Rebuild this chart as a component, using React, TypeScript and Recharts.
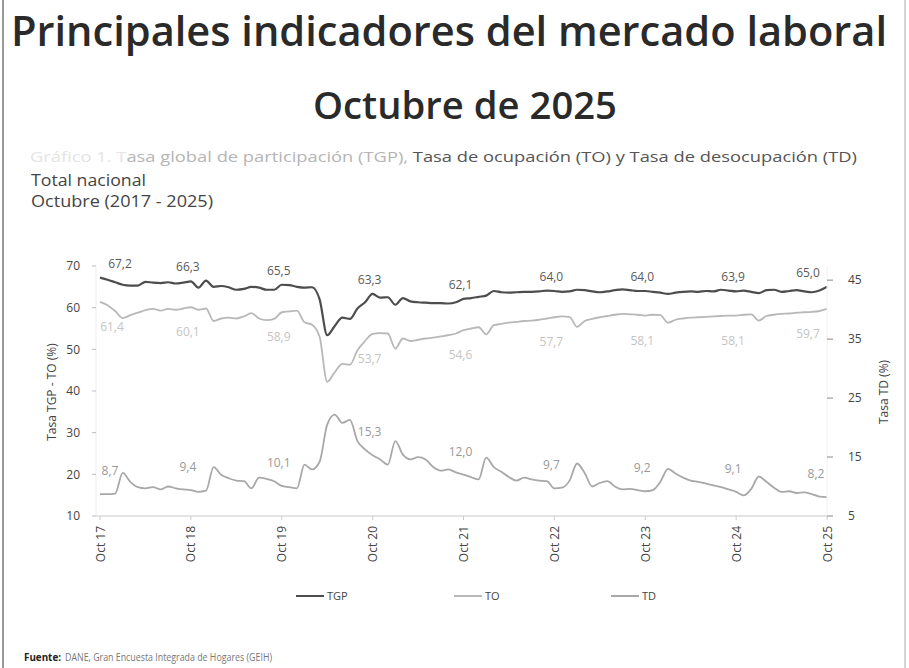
import React from 'react';
import { LineChart, Line, XAxis, YAxis, LabelList } from 'recharts';

const MONTHS = ['Ene', 'Feb', 'Mar', 'Abr', 'May', 'Jun', 'Jul', 'Ago', 'Sep', 'Oct', 'Nov', 'Dic'];
// monthly periods, Oct 2017 - Oct 2025
const PERIODS = Array.from({ length: 97 }, (_, i) => `${MONTHS[(9 + i) % 12]} ${17 + Math.floor((9 + i) / 12)}`);

const TGP = [
  67.2, 66.7, 66.1, 65.5, 65.3, 65.3, 66.2, 66.0, 65.9, 66.1, 65.8, 66.0,
  66.3, 64.8, 66.5, 65.0, 65.2, 64.9, 64.3, 64.5, 65.0, 64.8, 64.3, 64.3,
  65.5, 65.4, 65.0, 64.8, 64.9, 62.0, 53.4, 55.6, 57.6, 57.3, 59.8, 61.3,
  63.3, 62.4, 62.5, 60.7, 62.3, 61.5, 61.3, 61.2, 61.1, 61.1, 61.0, 61.3,
  62.1, 62.3, 62.6, 62.9, 64.0, 63.7, 63.6, 63.7, 63.8, 63.8, 63.9, 64.1,
  64.0, 63.8, 63.9, 64.3, 64.2, 63.9, 63.7, 63.9, 64.2, 64.4, 64.2, 64.0,
  64.0, 63.8, 63.6, 63.3, 63.6, 63.8, 63.9, 63.8, 64.0, 63.9, 64.3, 64.1,
  63.9, 64.1, 63.8, 63.5, 64.2, 64.3, 63.8, 64.0, 64.2, 63.9, 63.7, 64.1,
  65.0,
];

const TO = [
  61.4, 60.6, 59.2, 57.5, 58.2, 58.8, 59.4, 59.7, 59.3, 59.7, 59.5, 59.8,
  60.1, 59.5, 59.8, 56.8, 57.4, 57.6, 57.4, 57.9, 58.7, 57.4, 57.0, 57.3,
  58.9, 59.1, 59.3, 56.5, 55.9, 53.0, 42.2, 44.5, 46.5, 46.3, 49.8, 52.0,
  53.7, 53.9, 53.8, 50.2, 52.6, 52.0, 52.3, 52.6, 52.8, 53.1, 53.4, 53.8,
  54.6, 55.0, 55.3, 53.6, 55.8, 56.1, 56.4, 56.6, 56.8, 56.9, 57.1, 57.4,
  57.7, 57.9, 57.8, 55.4, 56.8, 57.3, 57.7, 58.0, 58.3, 58.5, 58.4, 58.3,
  58.1, 58.3, 58.2, 56.4, 57.1, 57.4, 57.6, 57.7, 57.8, 57.9, 58.0, 58.1,
  58.1, 58.3, 58.4, 56.9, 58.0, 58.3, 58.5, 58.6, 58.8, 58.9, 59.0, 59.2,
  59.7,
];

const TD = [
  8.7, 8.7, 8.8, 12.3, 10.8, 9.9, 9.7, 9.9, 9.5, 10.0, 9.7, 9.5,
  9.4, 9.1, 9.3, 13.3, 12.0, 11.4, 11.0, 10.9, 9.7, 11.5, 11.3, 10.9,
  10.1, 9.9, 9.7, 13.7, 12.9, 14.2, 20.5, 22.2, 20.8, 21.3, 17.7, 16.3,
  15.3, 14.6, 13.7, 17.7, 15.4, 14.6, 15.0, 14.6, 13.3, 12.7, 12.9, 12.4,
  12.0, 11.6, 11.2, 14.9, 13.3, 12.5, 11.6, 11.0, 11.5, 11.2, 11.0, 10.9,
  9.7, 9.8, 11.0, 13.9, 12.3, 10.0, 10.6, 10.9, 10.0, 9.5, 9.6, 9.4,
  9.2, 9.4, 10.8, 13.0, 12.2, 11.5, 11.0, 10.8, 10.5, 10.2, 9.9, 9.5,
  9.1, 8.5, 9.6, 11.7, 10.8, 9.8, 9.1, 9.2, 8.9, 9.0, 8.7, 8.3,
  8.2,
];

const LEFT_TICKS = [10, 20, 30, 40, 50, 60, 70];
const RIGHT_TICKS = [5, 15, 25, 35, 45];

const FONT = '"Open Sans", sans-serif';

const data = PERIODS.map((periodo, i) => {
  const oct = i % 12 === 0;
  return {
    periodo,
    tgp: TGP[i],
    to: TO[i],
    td: TD[i],
    tgpLabel: oct ? TGP[i] : null,
    toLabel: oct ? TO[i] : null,
    tdLabel: oct ? TD[i] : null,
  };
});

const fmt = (v: number) => v.toFixed(1).replace('.', ',');

function makeLabel(color: string, dy: number, dxFirst: number, dxLast: number) {
  return (props: any) => {
    const { value } = props;
    if (value === null || value === undefined) return null;
    const x = props.x ?? props.viewBox?.x;
    const y = props.y ?? props.viewBox?.y;
    let dx = -3;
    if (x < 110) dx = dxFirst;
    else if (x > 815) dx = dxLast;
    return (
      <text x={x + dx} y={y + dy} textAnchor="middle" fontSize={12} fill={color} fontFamily={FONT}>
        {fmt(value)}
      </text>
    );
  };
}

const XTick = (props: any) => {
  const { x, y, payload } = props;
  return (
    <g transform={`translate(${x},${y + 4})`}>
      <text transform="rotate(-90)" textAnchor="end" dominantBaseline="central" fontSize={12} fill="#444" fontFamily={FONT}>
        {payload.value}
      </text>
    </g>
  );
};

function App() {
  return (
    <div style={{ position: 'absolute', left: 0, top: 0, width: 909, height: 668, background: '#fff', overflow: 'hidden', fontFamily: FONT }}>
      <div style={{ position: 'absolute', left: 0, top: 240 }}>
        <LineChart width={909} height={330} data={data} margin={{ top: 26, right: 32, bottom: 4, left: 36 }}>
          <XAxis
            dataKey="periodo"
            interval={11}
            height={50}
            tick={<XTick />}
            tickSize={4}
            axisLine={{ stroke: '#c8c8c8' }}
            tickLine={{ stroke: '#ccc' }}
            padding={{ left: 4, right: 0 }}
          />
          <YAxis
            yAxisId="left"
            domain={[10, 70]}
            ticks={LEFT_TICKS}
            width={60}
            tickSize={4}
            tickMargin={12}
            axisLine={{ stroke: '#eee' }}
            tickLine={{ stroke: '#bbb' }}
            tick={{ fontSize: 12, fill: '#444', fontFamily: FONT }}
          />
          <YAxis
            yAxisId="right"
            orientation="right"
            domain={[5, 47.4]}
            ticks={RIGHT_TICKS}
            width={50}
            tickSize={6}
            tickMargin={15}
            axisLine={{ stroke: '#f0f0f0' }}
            tickLine={{ stroke: '#888' }}
            tick={{ fontSize: 12, fill: '#444', fontFamily: FONT }}
          />
          <Line yAxisId="left" type="monotone" dataKey="to" stroke="#b8b8b8" strokeWidth={1.8} dot={false} isAnimationActive={false}>
            <LabelList dataKey="toLabel" content={makeLabel('#c4c4c4', 29, 12, -19)} />
          </Line>
          <Line yAxisId="right" type="monotone" dataKey="td" stroke="#a8a8a8" strokeWidth={1.8} dot={false} isAnimationActive={false}>
            <LabelList dataKey="tdLabel" content={makeLabel('#999', -19, 10, -11)} />
          </Line>
          <Line yAxisId="left" type="monotone" dataKey="tgp" stroke="#4d4d4d" strokeWidth={2.2} dot={false} isAnimationActive={false}>
            <LabelList dataKey="tgpLabel" content={makeLabel('#5a5a5a', -10, 20, -19)} />
          </Line>
        </LineChart>
      </div>

      <svg width={909} height={668} style={{ position: 'absolute', left: 0, top: 0, pointerEvents: 'none' }} fontFamily={FONT}>
        <line x1={3} y1={0} x2={3} y2={668} stroke="#777" strokeWidth={1.5} />
        <line x1={905} y1={0} x2={905} y2={668} stroke="#aaa" strokeWidth={1} />

        <text x={449} y={46} textAnchor="middle" fontSize={42} fontWeight={600} fill="#2a2a2a" textLength={876} lengthAdjust="spacingAndGlyphs">
          Principales indicadores del mercado laboral
        </text>
        <text x={465} y={119} textAnchor="middle" fontSize={37} fontWeight={600} fill="#2a2a2a" textLength={304} lengthAdjust="spacingAndGlyphs">
          Octubre de 2025
        </text>

        <text x={30} y={162} fontSize={15} textLength={827} lengthAdjust="spacingAndGlyphs">
          <tspan fill="#e4e4e4">Gráfico 1. T</tspan>
          <tspan fill="#b5b5b5">asa global de participación (TGP), </tspan>
          <tspan fill="#555">Tasa de ocupación (TO) y Tasa de desocupación (TD)</tspan>
        </text>
        <text x={31} y={186} fontSize={16} fill="#444" textLength={115} lengthAdjust="spacingAndGlyphs">
          Total nacional
        </text>
        <text x={31} y={207} fontSize={16} fill="#444" textLength={182} lengthAdjust="spacingAndGlyphs">
          Octubre (2017 - 2025)
        </text>

        <text transform="translate(56,392) rotate(-90)" textAnchor="middle" fontSize={12} fill="#444">
          Tasa TGP - TO (%)
        </text>
        <text transform="translate(888,392) rotate(-90)" textAnchor="middle" fontSize={12} fill="#444">
          Tasa TD (%)
        </text>

        <line x1={296} y1={596} x2={324} y2={596} stroke="#4d4d4d" strokeWidth={2} />
        <text x={327} y={600} fontSize={11} fill="#444">TGP</text>
        <line x1={454} y1={596} x2={482} y2={596} stroke="#b8b8b8" strokeWidth={2} />
        <text x={485} y={600} fontSize={11} fill="#444">TO</text>
        <line x1={611} y1={596} x2={639} y2={596} stroke="#a8a8a8" strokeWidth={2} />
        <text x={642} y={600} fontSize={11} fill="#444">TD</text>

        <text x={24} y={661} fontSize={10} fill="#222" fontWeight={700} textLength={37} lengthAdjust="spacingAndGlyphs">
          Fuente:
        </text>
        <text x={65} y={661} fontSize={10} fill="#777" textLength={207} lengthAdjust="spacingAndGlyphs">
          DANE, Gran Encuesta Integrada de Hogares (GEIH)
        </text>
      </svg>
    </div>
  );
}

export default App;
